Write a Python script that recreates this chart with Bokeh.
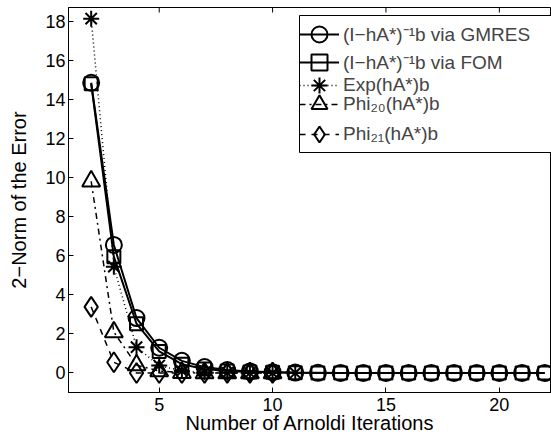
from bokeh.plotting import figure
from bokeh.models import Range1d, FixedTicker, Legend, LegendItem, BoxAnnotation
from bokeh.embed import file_html
from bokeh.resources import INLINE

# ---- data ----
x_long = [2, 3, 4, 5, 6, 7, 8, 9, 10, 11, 12, 13, 14, 15, 16, 17, 18, 19, 20, 21, 22]
gmres = [14.85, 6.55, 2.81, 1.29, 0.62, 0.30, 0.15, 0.08, 0.04, 0.02, 0.01,
         0.0, 0.0, 0.0, 0.0, 0.0, 0.0, 0.0, 0.0, 0.0, 0.0]
fom = [14.80, 5.95, 2.52, 1.10, 0.45, 0.20, 0.10, 0.05, 0.03, 0.01, 0.0,
       0.0, 0.0, 0.0, 0.0, 0.0, 0.0, 0.0, 0.0, 0.0, 0.0]
x_exp = [2, 3, 4, 5, 6, 7, 8, 9, 10, 11]
expv = [18.13, 5.44, 1.32, 0.38, 0.10, 0.03, 0.01, 0.0, 0.0, 0.0]
x_phi = [2, 3, 4, 5, 6, 7, 8, 9, 10]
phi20 = [9.81, 2.09, 0.40, 0.10, 0.01, 0.0, 0.0, 0.0, 0.0]
phi21 = [3.38, 0.55, 0.0, 0.0, 0.0, 0.0, 0.0, 0.0, 0.0]

x_ticks = [5, 10, 15, 20]
y_ticks = [0, 2, 4, 6, 8, 10, 12, 14, 16, 18]
X_MIN, X_MAX = 1, 22.3
Y_MIN, Y_MAX = -1, 18.7

labels = ["(I\u2212hA*)\u207b\u00b9b via GMRES",
          "(I\u2212hA*)\u207b\u00b9b via FOM",
          "Exp(hA*)b",
          "Phi\u2082\u2080(hA*)b",
          "Phi\u2082\u2081(hA*)b"]

FONT = "Liberation Sans"

p = figure(width=551, height=436, output_backend="svg", toolbar_location=None,
           x_range=Range1d(X_MIN, X_MAX), y_range=Range1d(Y_MIN, Y_MAX),
           min_border_left=68, min_border_right=0, min_border_top=7,
           min_border_bottom=40)
p.grid.visible = False
p.outline_line_color = "black"
p.outline_line_width = 1
p.background_fill_color = "white"
p.border_fill_color = "white"

p.xaxis.ticker = FixedTicker(ticks=x_ticks)
p.yaxis.ticker = FixedTicker(ticks=y_ticks)
for ax in (p.xaxis[0], p.yaxis[0]):
    ax.major_tick_in = 5
    ax.major_tick_out = 0
    ax.minor_tick_line_color = None
    ax.major_label_text_font = FONT
    ax.major_label_text_font_size = "18px"
    ax.major_label_text_color = "black"
    ax.axis_label_text_font = FONT
    ax.axis_label_text_font_size = "20px"
    ax.axis_label_text_font_style = "normal"
    ax.axis_label_text_color = "black"
    ax.axis_line_color = "black"
    ax.major_tick_line_color = "black"

p.xaxis.axis_label = "Number of Arnoldi Iterations"
p.yaxis.axis_label = "2\u2212Norm of the Error"
p.xaxis.major_label_standoff = 5
p.xaxis.axis_label_standoff = -2
p.yaxis.major_label_standoff = 3
p.yaxis.axis_label_standoff = 12

# tick marks on the top edge of the box (MATLAB style)
tick_len = (Y_MAX - Y_MIN) * 5 / 383
p.segment(x0=x_ticks, x1=x_ticks, y0=[Y_MAX] * len(x_ticks),
          y1=[Y_MAX - tick_len] * len(x_ticks), line_color="black", line_width=1)

lw = 2
r1l = p.line(x_long, gmres, line_color="black", line_width=lw)
r1m = p.scatter(x_long, gmres, marker="circle", size=16, fill_color=None,
                line_color="black", line_width=lw)
r2l = p.line(x_long, fom, line_color="black", line_width=lw)
r2m = p.scatter(x_long, fom, marker="square", size=13, fill_color=None,
                line_color="black", line_width=lw)
r3l = p.line(x_exp, expv, line_color="black", line_width=1.5, line_dash="1 3")
r3m = p.scatter(x_exp, expv, marker="asterisk", size=16, fill_color=None,
                line_color="black", line_width=2)
r4l = p.line(x_phi, phi20, line_color="black", line_width=1.5, line_dash="dashdot")
r4m = p.scatter(x_phi, phi20, marker="triangle", size=18, fill_color=None,
                line_color="black", line_width=lw)
r5l = p.line(x_phi, phi21, line_color="black", line_width=1.5, line_dash="dashed")
r5m = p.scatter(x_phi, phi21, marker="diamond", size=20, fill_color=None,
                line_color="black", line_width=lw)

# legend frame (screen units relative to the plot frame's bottom-left)
box = BoxAnnotation(left=231, right=483, top=377, bottom=240,
                    left_units="screen", right_units="screen",
                    top_units="screen", bottom_units="screen",
                    fill_color="white", fill_alpha=1, line_color="black",
                    line_width=1, line_alpha=1)
p.add_layout(box)

renderer_pairs = [[r1l, r1m], [r2l, r2m], [r3l, r3m], [r4l, r4m], [r5l, r5m]]
row_centers = [32, 60, 83, 102, 132]   # canvas y of each legend row
frame_bottom = 390
for lab, rends, yc in zip(labels, renderer_pairs, row_centers):
    lg = Legend(items=[LegendItem(label=lab, renderers=rends)],
                location=(231, frame_bottom - yc - 20),
                border_line_color=None, background_fill_alpha=0,
                label_text_font=FONT, label_text_font_size="19px",
                label_height=40, glyph_height=40, glyph_width=40,
                spacing=0, padding=0, margin=0, label_standoff=4)
    p.add_layout(lg, "center")

open("out.html", "w").write(file_html(p, INLINE))
